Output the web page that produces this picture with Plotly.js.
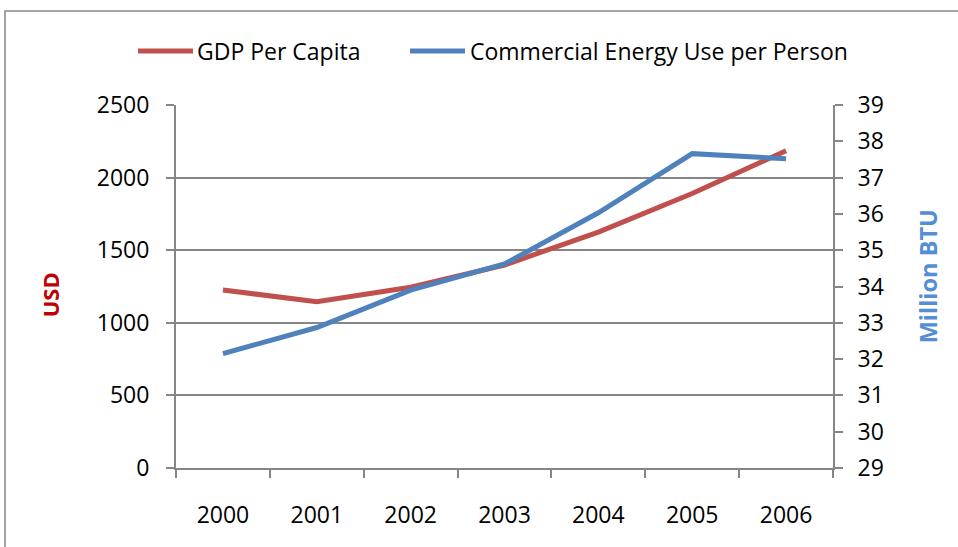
<!DOCTYPE html>
<html>
<head>
<meta charset="utf-8">
<script src="https://cdn.plot.ly/plotly-3.0.1.min.js"></script>
<style>
html,body{margin:0;padding:0;background:#fff;}
#chart{width:958px;height:547px;}
</style>
</head>
<body>
<div id="chart"></div>
<script>
const years = ["2000","2001","2002","2003","2004","2005","2006"];
const gdpPerCapita = [1226, 1145, 1245, 1398, 1625, 1890, 2185];
const energyPerPerson = [32.15, 32.87, 33.9, 34.62, 36.03, 37.66, 37.52];
const seriesNames = ["GDP Per Capita", "Commercial Energy Use per Person"];
const leftTitle = "USD";
const rightTitle = "Million BTU";

const FONT = "'Open Sans', 'Liberation Sans', sans-serif";
const GRID = "#868686";
const RED = "#C0504D";
const BLUE = "#4F81BD";
const colors = [RED, BLUE];

const traces = [
  {x: years, y: gdpPerCapita, name: seriesNames[0], type: "scatter", mode: "lines",
   line: {color: RED, width: 5}, yaxis: "y"},
  {x: years, y: energyPerPerson, name: seriesNames[1], type: "scatter", mode: "lines",
   line: {color: BLUE, width: 5}, yaxis: "y2"}
];

// custom legend (line samples + labels) above the plot area, paper coordinates
const legendY = 1.1488;
const legendSpecs = [
  {x0: -0.0578, x1: 0.0259, tx: 0.0289},
  {x0: 0.3562, x1: 0.4399, tx: 0.4444}
];
const legendShapes = legendSpecs.map((s, i) => ({
  type: "line", xref: "paper", yref: "paper", x0: s.x0, x1: s.x1, y0: legendY, y1: legendY,
  line: {color: colors[i], width: 5}
}));
const legendLabels = legendSpecs.map((s, i) => ({
  xref: "paper", yref: "paper", x: s.tx, y: legendY, xanchor: "left", yanchor: "middle",
  text: seriesNames[i], showarrow: false, font: {family: FONT, size: 23, color: "#000"}
}));

// axis titles (rotated text)
const axisTitles = [
  {xref: "paper", yref: "paper", x: -0.1913, y: 0.4766, xanchor: "center", yanchor: "middle",
   textangle: -90, text: leftTitle, showarrow: false,
   font: {family: FONT, size: 22, color: "#C00000", weight: "bold"}},
  {xref: "paper", yref: "paper", x: 1.1440, y: 0.5270, xanchor: "center", yanchor: "middle",
   textangle: -90, text: rightTitle, showarrow: false,
   font: {family: FONT, size: 23.5, color: "#558ED5", weight: "bold"}}
];

const layout = {
  width: 958, height: 547,
  margin: {l: 176, r: 125, t: 105, b: 79},
  paper_bgcolor: "#fff", plot_bgcolor: "#fff",
  font: {family: FONT, size: 23, color: "#000"},
  showlegend: false,
  xaxis: {type: "category", range: [-0.5, 6.5], showgrid: false, showline: true, linecolor: GRID, linewidth: 2,
          ticks: "outside", tickson: "boundaries", ticklen: 8, tickcolor: GRID, tickwidth: 2,
          ticklabelstandoff: 25, zeroline: false, fixedrange: true},
  yaxis: {range: [0, 2500], dtick: 500, tick0: 0, showgrid: true, gridcolor: GRID, gridwidth: 2,
          showline: true, linecolor: GRID, linewidth: 2, ticks: "outside", ticklen: 8,
          tickcolor: GRID, tickwidth: 2, zeroline: false, ticklabelstandoff: 12},
  yaxis2: {range: [29, 39], dtick: 1, tick0: 29, overlaying: "y", side: "right", showgrid: false,
           showline: true, linecolor: GRID, linewidth: 2, ticks: "outside", ticklen: 8,
           tickcolor: GRID, tickwidth: 2, zeroline: false, ticklabelstandoff: 10},
  shapes: [
    {type: "rect", xref: "paper", yref: "paper", x0: -0.2603, x1: 2, y0: -1, y1: 1.259,
     line: {color: GRID, width: 1.5}, fillcolor: "rgba(0,0,0,0)", layer: "below"}
  ].concat(legendShapes),
  annotations: legendLabels.concat(axisTitles)
};

Plotly.newPlot("chart", traces, layout, {displayModeBar: false, staticPlot: true});
</script>
</body>
</html>
